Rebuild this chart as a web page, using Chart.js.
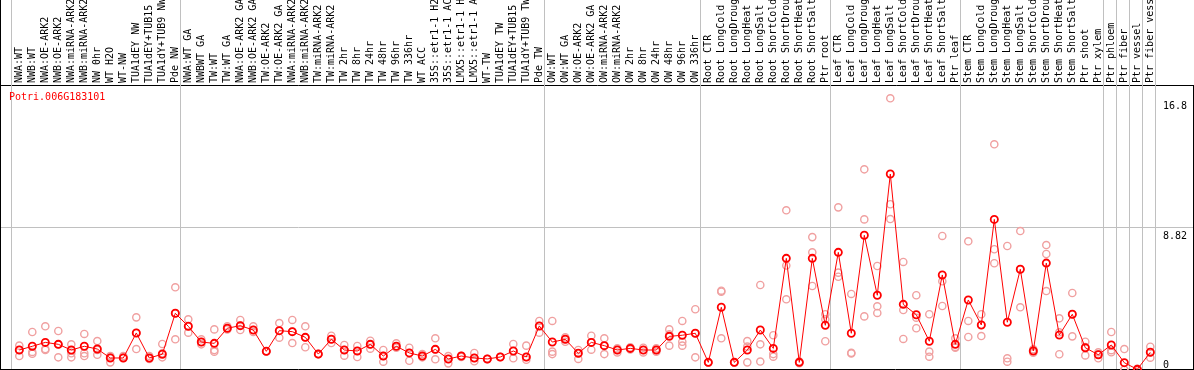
<!DOCTYPE html>
<html>
<head>
<meta charset="utf-8">
<script src="https://cdn.jsdelivr.net/npm/chart.js@4"></script>
<style>
    body { margin: 0; background: #fff; }
    #wrap { width: 1194px; height: 370px; }
</style>
</head>
<body>
<div id="wrap"><canvas id="exprChart" width="1194" height="370"></canvas></div>
<script>
// Gene shown in the corner
const geneName = 'Potri.006G183101';

// Sample names (as printed, cut to 14 chars)
const samples = [
    'NWA:WT', 'NWB:WT', 'NWA:OE-ARK2', 'NWB:OE-ARK2', 'NWA:miRNA-ARK2', 'NWB:miRNA-ARK2',
    'NW 0hr', 'WT H2O', 'WT-NW', 'TUA1dEY NW', 'TUA1dEY+TUB15', 'TUA1dY+TUB9 NW', 'Pde NW',
    'NWA:WT GA', 'NWBWT GA', 'TW:WT', 'TW:WT GA', 'NWA:OE-ARK2 GA', 'NWB:OE-ARK2 GA',
    'TW:OE-ARK2', 'TW:OE-ARK2 GA', 'NWA:miRNA-ARK2', 'NWB:miRNA-ARK2', 'TW:miRNA-ARK2', 'TW:miRNA-ARK2',
    'TW 2hr', 'TW 8hr', 'TW 24hr', 'TW 48hr', 'TW 96hr', 'TW 336hr', 'WT ACC',
    '35S::etr1-1 H2', '35S::etr1-1 AC', 'LMX5::etr1-1 H', 'LMX5::etr1-1 A',
    'WT-TW', 'TUA1dEY TW', 'TUA1dEY+TUB15', 'TUA1dY+TUB9 TW', 'Pde TW',
    'OW:WT', 'OW:WT GA', 'OW:OE-ARK2', 'OW:OE-ARK2 GA', 'OW:miRNA-ARK2', 'OW:miRNA-ARK2',
    'OW 2hr', 'OW 8hr', 'OW 24hr', 'OW 48hr', 'OW 96hr', 'OW 336hr',
    'Root CTR', 'Root LongCold', 'Root LongDroug', 'Root LongHeat', 'Root LongSalt',
    'Root ShortCold', 'Root ShortDrou', 'Root ShortHeat', 'Root ShortSalt', 'Ptr root',
    'Leaf CTR', 'Leaf LongCold', 'Leaf LongDroug', 'Leaf LongHeat', 'Leaf LongSalt',
    'Leaf ShortCold', 'Leaf ShortDrou', 'Leaf ShortHeat', 'Leaf ShortSalt', 'Ptr leaf',
    'Stem CTR', 'Stem LongCold', 'Stem LongDroug', 'Stem LongHeat', 'Stem LongSalt',
    'Stem ShortCold', 'Stem ShortDrou', 'Stem ShortHeat', 'Stem ShortSalt', 'Ptr shoot',
    'Ptr xylem', 'Ptr phloem', 'Ptr fiber', 'Ptr vessel', 'Ptr fiber vess'
];

// Mean expression per sample (red line)
const meanExpr = [
    1.31, 1.54, 1.78, 1.66, 1.31, 1.54, 1.37, 0.82, 0.82, 2.36, 0.82, 1.05, 3.57,
    2.77, 1.80, 1.72, 2.65, 2.81, 2.54, 1.23, 2.50, 2.44, 2.09, 1.06, 1.97, 1.31, 1.25,
    1.66, 0.94, 1.54, 1.13, 0.94, 1.35, 0.76, 0.94, 0.82, 0.76, 0.88, 1.25, 0.88, 2.79,
    1.80, 1.97, 1.11, 1.78, 1.58, 1.31, 1.41, 1.31, 1.31, 2.15, 2.22, 2.34,
    0.55, 3.94, 0.55, 1.31, 2.54, 1.41, 6.95, 0.55, 6.95, 2.83,
    7.32, 2.34, 8.37, 4.68, 12.14, 4.12, 3.48, 1.85, 5.93, 1.66,
    4.39, 2.85, 9.35, 3.02, 6.28, 1.25, 6.66, 2.23, 3.51, 1.45, 1.02,
    1.62, 0.53, 0.12, 1.17
];

// Replicate values (pale circles)
const rep1 = [
    1.58, 2.42, 2.77, 2.48, 1.66, 2.30, 1.86, 0.94, 0.94, 3.32, 0.94, 1.68, 5.17,
    3.20, 1.97, 2.58, 2.77, 3.16, 2.77, 1.23, 2.97, 3.16, 2.77, 1.06, 2.19, 1.62, 1.56,
    1.88, 1.31, 1.72, 1.45, 1.06, 2.03, 0.94, 0.94, 1.13, 0.76, 0.88, 1.68, 1.58, 3.10,
    3.10, 2.09, 1.31, 2.19, 2.03, 1.41, 1.47, 1.45, 1.41, 2.58, 3.10, 3.82,
    0.55, 4.96, 0.55, 1.86, 5.31, 2.22, 9.91, 0.55, 8.26, 3.51,
    10.09, 4.76, 12.43, 6.48, 16.80, 6.73, 4.68, 3.51, 8.33, 2.03,
    8.00, 3.51, 13.97, 7.71, 8.63, 1.35, 7.77, 3.26, 4.82, 1.82, 1.17,
    2.42, 1.37, 0.10, 1.51
];
const rep2 = [
    1.31, 1.19, 1.37, 1.66, 1.11, 1.11, 1.31, 0.55, 0.82, 1.37, 0.82, 1.11, 1.97,
    2.38, 1.66, 1.31, 2.65, 2.54, 2.42, 1.23, 2.07, 1.74, 1.48, 1.06, 1.74, 0.96, 0.88,
    1.39, 0.59, 1.45, 0.65, 0.86, 0.74, 0.49, 0.88, 0.62, 0.76, 0.88, 0.80, 0.71, 2.38,
    1.21, 1.82, 0.76, 1.33, 1.06, 1.16, 1.35, 1.16, 1.21, 1.58, 1.82, 0.86,
    0.55, 4.90, 0.55, 0.55, 1.66, 1.06, 4.43, 0.50, 7.32, 3.20,
    6.07, 1.14, 9.35, 4.00, 10.28, 3.77, 3.30, 1.21, 5.54, 1.45,
    3.10, 2.17, 7.51, 0.80, 3.94, 1.14, 7.22, 1.05, 2.15, 0.98, 0.80,
    1.17, 0.10, 0.05, 0.84
];
const rep3 = [
    0.94, 1.08, 1.31, 0.86, 0.86, 0.94, 1.02, 0.86, 0.86, 2.36, 0.76, 0.86, 3.57,
    2.77, 1.80, 1.21, 2.58, 2.81, 2.54, 1.23, 2.50, 2.44, 2.09, 1.06, 1.97, 1.31, 1.25,
    1.66, 0.94, 1.54, 1.13, 0.94, 1.35, 0.76, 0.94, 0.82, 0.76, 0.88, 1.25, 0.88, 2.79,
    1.06, 1.97, 1.11, 1.78, 1.58, 1.31, 1.41, 1.31, 1.31, 2.27, 1.58, 2.34,
    0.55, 2.03, 0.55, 1.52, 0.60, 0.90, 6.51, 0.60, 5.25, 1.85,
    5.82, 1.10, 3.38, 3.59, 9.37, 1.99, 2.65, 0.90, 4.02, 1.50,
    2.11, 2.85, 6.65, 0.59, 6.28, 1.25, 4.94, 2.40, 3.51, 1.50, 1.05,
    1.30, 0.10, 0.15, 1.17
];

// Right-hand axis labels, and where the group separators fall
const yTicks = [0, 8.82, 16.8];
const groupBreaks = [0, 13, 41, 53, 63, 73, 84, 85, 86, 87, 88];

const monoFont = "'DejaVu Sans Mono', 'Liberation Mono', monospace";

const meanPoints = meanExpr.map((v, i) => ({ x: i + 1, y: v }));
const repPoints = [];
[rep1, rep2, rep3].forEach(rep => {
    rep.forEach((v, i) => repPoints.push({ x: i + 1, y: v }));
});

// Separators, frame, gene name and y labels
const decorPlugin = {
    id: 'decor',
    beforeDatasetsDraw(chart) {
        const c = chart.ctx;
        const xs = chart.scales.x;
        const area = chart.chartArea;
        c.save();
        c.strokeStyle = '#c0c0c0';
        c.lineWidth = 1;
        groupBreaks.forEach(k => {
            const px = Math.round(xs.getPixelForValue(k + 0.338)) + 0.5;
            c.beginPath();
            c.moveTo(px, 0);
            c.lineTo(px, area.bottom);
            c.stroke();
        });
        c.strokeStyle = '#000';
        c.beginPath();
        c.moveTo(0.5, 0);
        c.lineTo(0.5, 370);
        c.moveTo(0, 369.5);
        c.lineTo(1194, 369.5);
        c.moveTo(1193.5, area.top);
        c.lineTo(1193.5, 370);
        c.stroke();

        c.font = '10px ' + monoFont;
        c.fillStyle = '#ff0000';
        c.textAlign = 'left';
        c.textBaseline = 'middle';
        c.fillText(geneName, 9, 97);

        const ys = chart.scales.y;
        c.fillStyle = '#000';
        yTicks.forEach(v => {
            const py = Math.min(ys.getPixelForValue(v) + 8, 365);
            c.fillText(String(v), 1163, py);
        });
        c.restore();
    }
};

const ctx = document.getElementById('exprChart').getContext('2d');
const exprChart = new Chart(ctx, {
    type: 'line',
    data: {
        datasets: [{
            label: 'mean',
            data: meanPoints,
            borderColor: '#ff0000',
            borderWidth: 1,
            pointRadius: 3.6,
            pointBorderWidth: 1.8,
            pointBorderColor: '#ff0000',
            pointBackgroundColor: 'rgba(0,0,0,0)',
            tension: 0
        }, {
            label: 'replicates',
            data: repPoints,
            showLine: false,
            pointRadius: 3.6,
            pointBorderWidth: 1.4,
            pointBorderColor: '#f0a0a0',
            pointBackgroundColor: 'rgba(0,0,0,0)'
        }]
    },
    options: {
        responsive: false,
        animation: false,
        layout: { padding: 0, autoPadding: false },
        plugins: {
            legend: { display: false },
            tooltip: { enabled: false }
        },
        scales: {
            x: {
                type: 'linear',
                position: 'top',
                min: 1 - 19.3 / 13,
                max: 1 + (1194 - 19.3) / 13,
                afterBuildTicks: s => { s.ticks = samples.map((_, i) => ({ value: i + 1 })); },
                afterFit: s => {
                    s.height = 85;
                    s.paddingLeft = 0;
                    s.paddingRight = 0;
                },
                grid: { display: false, drawTicks: false },
                border: { display: true, color: '#000', width: 1 },
                ticks: {
                    autoSkip: false,
                    minRotation: 90,
                    maxRotation: 90,
                    padding: 2,
                    labelOffset: 12,
                    color: '#000',
                    font: { family: monoFont, size: 10 },
                    callback: v => samples[v - 1] || ''
                }
            },
            y: {
                type: 'linear',
                position: 'right',
                min: 0.08,
                max: 17.62,
                afterBuildTicks: s => { s.ticks = yTicks.map(v => ({ value: v })); },
                afterFit: s => { s.width = 0; },
                grid: {
                    drawTicks: false,
                    color: c => (c.tick && c.tick.value === 8.82) ? '#c0c0c0' : 'rgba(0,0,0,0)'
                },
                border: { display: false },
                ticks: { display: false }
            }
        }
    },
    plugins: [decorPlugin]
});
</script>
</body>
</html>
